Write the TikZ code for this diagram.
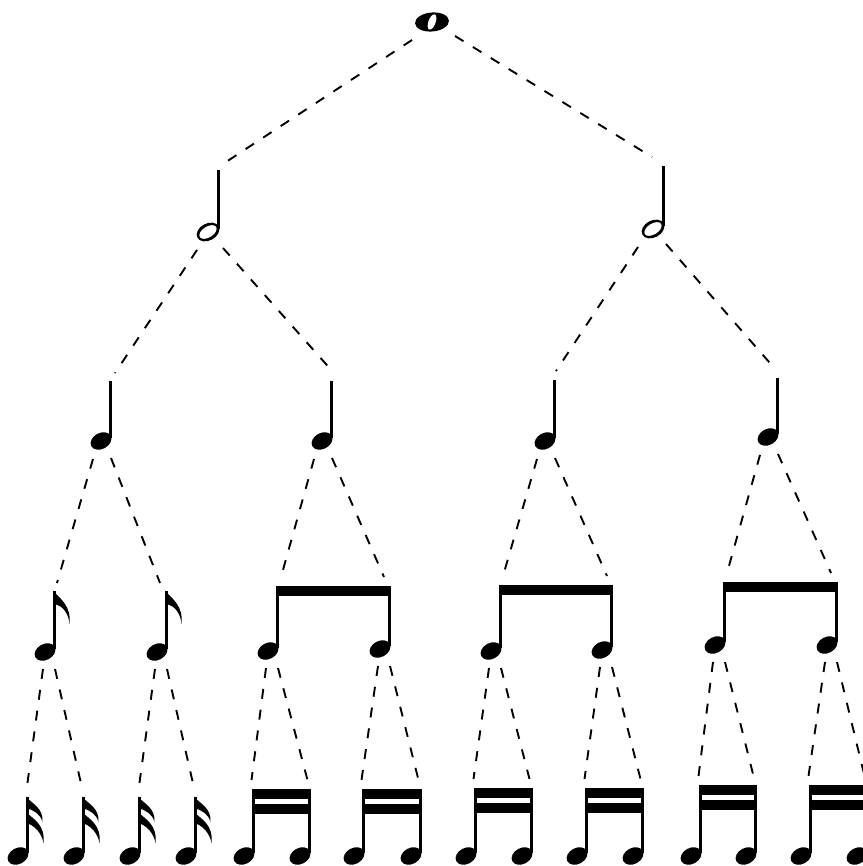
\documentclass[tikz,border=0pt]{standalone}
\begin{document}
\begin{tikzpicture}[x=1pt,y=-1pt,
  link/.style={dash pattern=on 10pt off 11pt, line width=1.9pt, line cap=butt},
  stemline/.style={line width=2.5pt}]
\fill[white] (0,0) rectangle (862,866);
\useasboundingbox (0,0) rectangle (862,866);
% ---------- helpers ----------
\newcommand\nhead[3]{\coordinate (#1) at (#2,#3);
  \fill[rotate around={28:(#2,#3)}] (#2,#3) ellipse [x radius=11, y radius=8];}
\newcommand\qnote[4]{\nhead{#1}{#2}{#3}\draw[stemline] (#2+9.5,#3-3) -- (#2+9.5,#4);}
\newcommand\eflag[2]{\fill (#1-1.2,#2) .. controls (#1+6,#2+8) and (#1+17,#2+15) .. (#1+15,#2+33) .. controls (#1+14,#2+22) and (#1+8,#2+14) .. (#1-1.2,#2+13) -- cycle;}
\newcommand\sflag[2]{%
  \fill (#1-1.2,#2) .. controls (#1+5,#2+7) and (#1+16,#2+11) .. (#1+15,#2+25) .. controls (#1+13,#2+17) and (#1+6,#2+13) .. (#1-1.2,#2+11) -- cycle;
  \fill (#1-1.2,#2+15) .. controls (#1+5,#2+22) and (#1+18,#2+27) .. (#1+16,#2+46) .. controls (#1+14,#2+35) and (#1+6,#2+28) .. (#1-1.2,#2+26) -- cycle;}
\newcommand\outs[3]{\coordinate (#1-l) at (#2-2,#3+17); \coordinate (#1-r) at (#2+10,#3+17);}
% ---------- whole note ----------
\coordinate (w) at (432,22);
\fill[rotate around={5:(432,22)}] (432,22) ellipse [x radius=17, y radius=9.5];
\fill[white, rotate around={70:(432,22)}] (432,22) ellipse [x radius=8, y radius=3.6];
\coordinate (w-l) at (412,40); \coordinate (w-r) at (455,36);
% ---------- half notes ----------
\foreach \n/\hx/\hy/\tp in {hL/208/232/170, hR/653/229/166}{
  \coordinate (\n) at (\hx,\hy);
  \fill[rotate around={28:(\hx,\hy)}] (\hx,\hy) ellipse [x radius=12, y radius=8.5];
  \fill[white, rotate around={32:(\hx,\hy)}] (\hx,\hy) ellipse [x radius=9.6, y radius=5.4];
  \draw[stemline] (\hx+10.5,\hy-3) -- (\hx+10.5,\tp);
}
\coordinate (hL-in) at (226,162); \coordinate (hL-l) at (197,250); \coordinate (hL-r) at (223,248);
\coordinate (hR-in) at (652,157); \coordinate (hR-l) at (638,247); \coordinate (hR-r) at (666,244);
% ---------- quarter notes ----------
\qnote{q1}{101}{441}{381} \coordinate (q1-in) at (115,373); \coordinate (q1-l) at (93,459);  \coordinate (q1-r) at (111,458);
\qnote{q2}{322}{441}{381} \coordinate (q2-in) at (333,372); \coordinate (q2-l) at (314,459); \coordinate (q2-r) at (332,458);
\qnote{q3}{545}{441}{380} \coordinate (q3-in) at (556,371); \coordinate (q3-l) at (537,459); \coordinate (q3-r) at (555,458);
\qnote{q4}{768}{437}{378} \coordinate (q4-in) at (776,370); \coordinate (q4-l) at (760,455); \coordinate (q4-r) at (778,454);
% ---------- eighth notes ----------
\qnote{e1}{45}{652}{591}  \eflag{54.5}{591}  \coordinate (e1-in) at (57,583);  \outs{e1}{45}{652}
\qnote{e2}{157}{652}{591} \eflag{166.5}{591} \coordinate (e2-in) at (160,583); \outs{e2}{157}{652}
% beamed pairs
\qnote{p1a}{268}{651}{586} \qnote{p1b}{380}{649}{586} \fill (277.5-1.2,586) rectangle (389.5+1.2,596);
\coordinate (p1a-in) at (281,577); \coordinate (p1b-in) at (384,577); \outs{p1a}{268}{651} \outs{p1b}{380}{649}
\qnote{p2a}{491}{651}{585} \qnote{p2b}{602}{650}{585} \fill (500.5-1.2,585) rectangle (611.5+1.2,595);
\coordinate (p2a-in) at (503,576); \coordinate (p2b-in) at (607,576); \outs{p2a}{491}{651} \outs{p2b}{602}{650}
\qnote{p3a}{715}{645}{582} \qnote{p3b}{827}{645}{582} \fill (724.5-1.2,582) rectangle (836.5+1.2,592);
\coordinate (p3a-in) at (727,573); \coordinate (p3b-in) at (831,573); \outs{p3a}{715}{645} \outs{p3b}{827}{645}
% ---------- sixteenth notes ----------
\foreach \n/\hx in {s1/18, s2/74, s3/130, s4/186}{
  \qnote{\n}{\hx}{856}{797} \sflag{\hx+9.5}{797}
  \coordinate (\n-in) at (\hx+8.5,790);
}
\foreach \n/\ha/\hb/\bt in {sa/244/300/789, sb/354/411/789, sc/466/522/788, sd/577/633/788, se/691/746/785, sf/801/857/785}{
  \qnote{\n1}{\ha}{856}{\bt} \qnote{\n2}{\hb}{856}{\bt}
  \fill (\ha+8.3,\bt) rectangle (\hb+10.7,\bt+10);
  \fill (\ha+8.3,\bt+15) rectangle (\hb+10.7,\bt+25);
  \coordinate (\n1-in) at (\ha+7.5,\bt-9);
  \coordinate (\n2-in) at (\hb+7.5,\bt-9);
}
% ---------- connectors ----------
\draw[link] (w-l) -- (hL-in);   \draw[link] (w-r) -- (hR-in);
\draw[link] (hL-l) -- (q1-in);  \draw[link] (hL-r) -- (q2-in);
\draw[link] (hR-l) -- (q3-in);  \draw[link] (hR-r) -- (q4-in);
\draw[link] (q1-l) -- (e1-in);  \draw[link] (q1-r) -- (e2-in);
\draw[link] (q2-l) -- (p1a-in); \draw[link] (q2-r) -- (p1b-in);
\draw[link] (q3-l) -- (p2a-in); \draw[link] (q3-r) -- (p2b-in);
\draw[link] (q4-l) -- (p3a-in); \draw[link] (q4-r) -- (p3b-in);
\draw[link] (e1-l) -- (s1-in);  \draw[link] (e1-r) -- (s2-in);
\draw[link] (e2-l) -- (s3-in);  \draw[link] (e2-r) -- (s4-in);
\draw[link] (p1a-l) -- (sa1-in); \draw[link] (p1a-r) -- (sa2-in);
\draw[link] (p1b-l) -- (sb1-in); \draw[link] (p1b-r) -- (sb2-in);
\draw[link] (p2a-l) -- (sc1-in); \draw[link] (p2a-r) -- (sc2-in);
\draw[link] (p2b-l) -- (sd1-in); \draw[link] (p2b-r) -- (sd2-in);
\draw[link] (p3a-l) -- (se1-in); \draw[link] (p3a-r) -- (se2-in);
\draw[link] (p3b-l) -- (sf1-in); \draw[link] (p3b-r) -- (sf2-in);
\end{tikzpicture}
\end{document}
